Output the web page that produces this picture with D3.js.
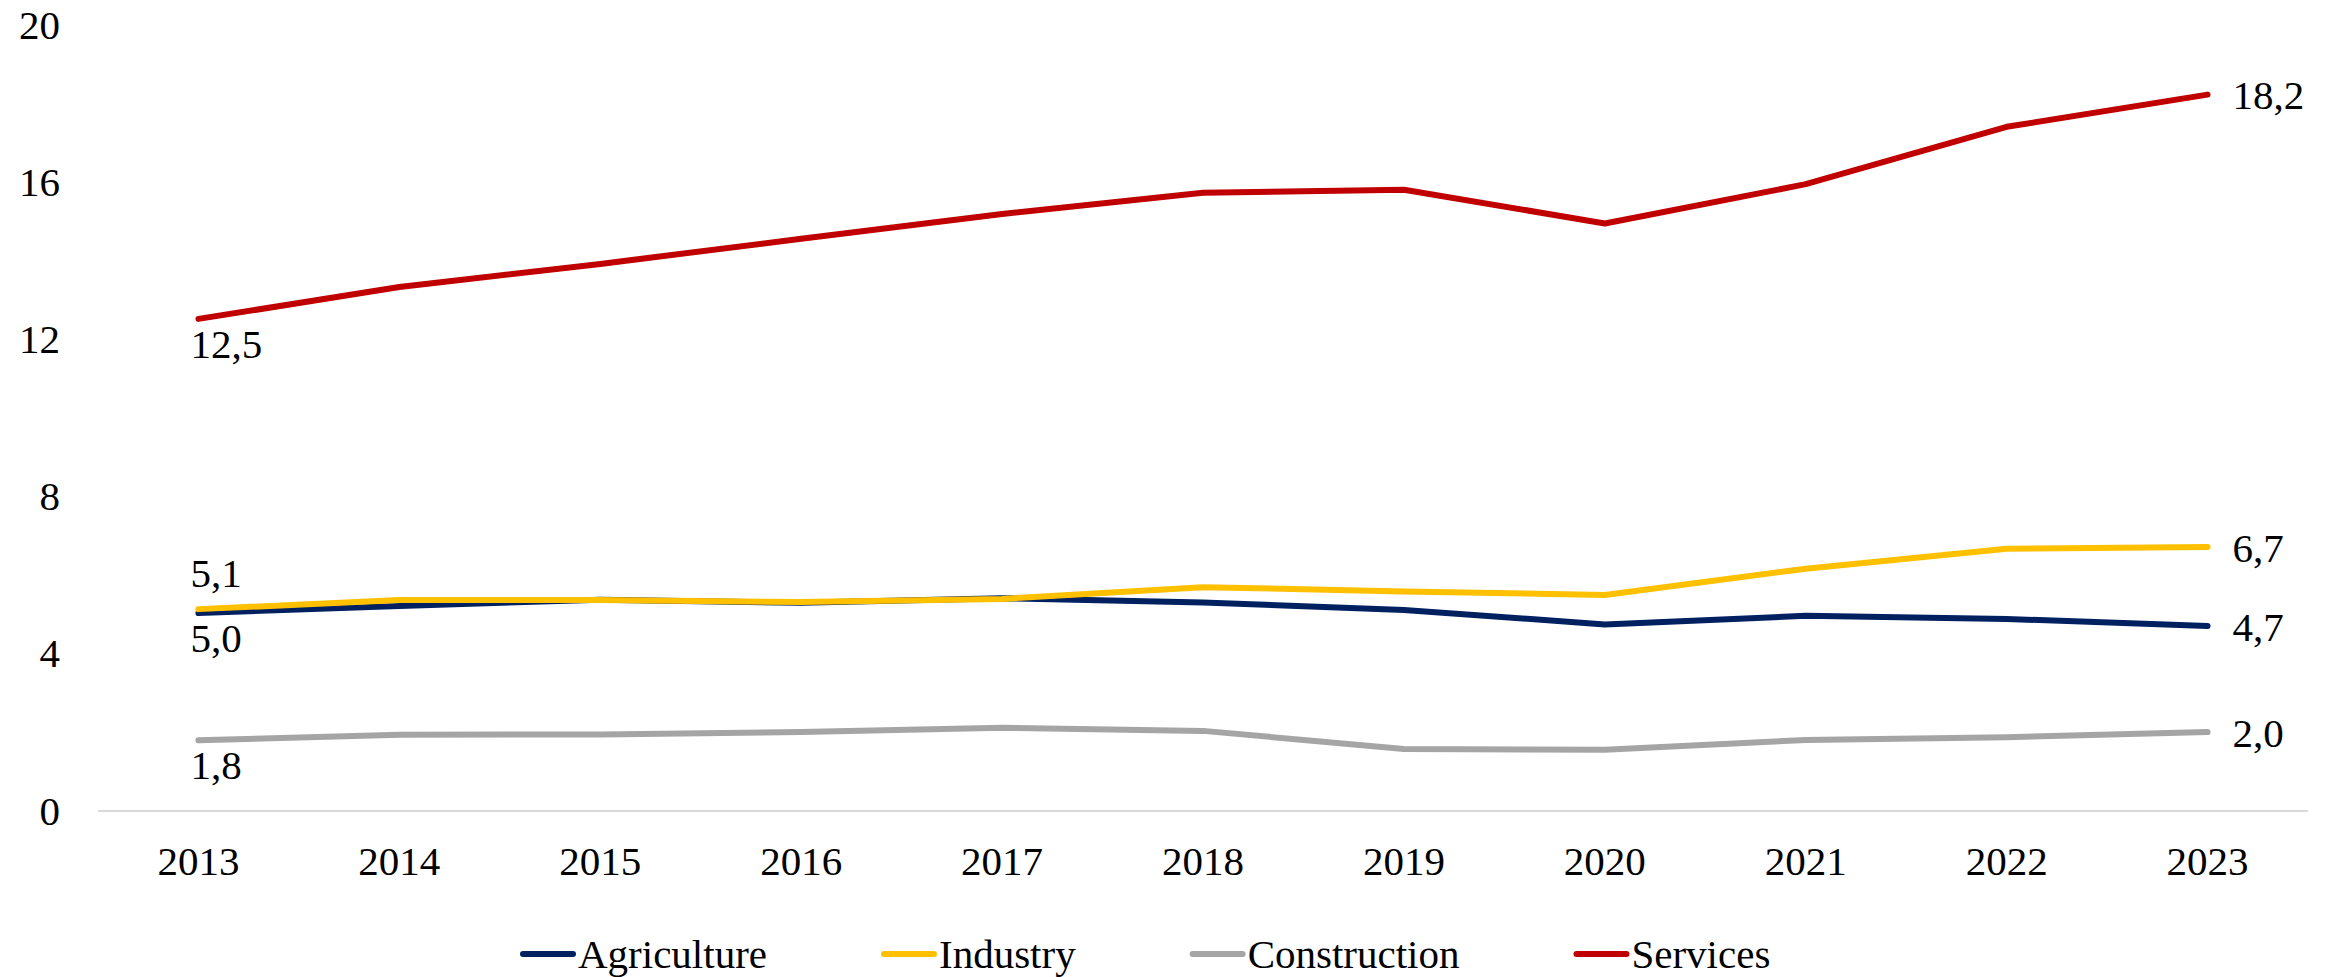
<!DOCTYPE html>
<html lang="en">
	<head>
		<meta charset="utf-8">
		<title>Employment by sector</title>
		<style>
			html, body {
				margin: 0;
				background: #fff;
			}
			svg {
				display: block;
				font-family: 'Liberation Serif', 'DejaVu Serif', serif;
			}
		</style>
	</head>
	<body>
		<script src="https://cdn.jsdelivr.net/npm/d3@7/dist/d3.min.js"></script>
		<script>
		const years = ['2013', '2014', '2015', '2016', '2017', '2018', '2019', '2020', '2021', '2022', '2023']
		const agriculture = [5.04, 5.22, 5.38, 5.30, 5.42, 5.31, 5.12, 4.75, 4.97, 4.89, 4.71]
		const industry = [5.14, 5.37, 5.37, 5.32, 5.40, 5.70, 5.59, 5.50, 6.17, 6.68, 6.72]
		const construction = [1.80, 1.94, 1.95, 2.01, 2.12, 2.04, 1.58, 1.56, 1.81, 1.88, 2.01]
		const services = [12.53, 13.34, 13.93, 14.57, 15.20, 15.74, 15.82, 14.96, 15.96, 17.42, 18.24]
		const yTicks = [0, 4, 8, 12, 16, 20]

		const series = [
			{ name: 'Agriculture', values: agriculture, color: '#002060', first: 'below' },
			{ name: 'Industry', values: industry, color: '#FFC000', first: 'above' },
			{ name: 'Construction', values: construction, color: '#A5A5A5', first: 'below' },
			{ name: 'Services', values: services, color: '#C00000', first: 'below' }
		]

		const W = 2336
		const H = 977
		const fontSize = 41
		const fmt = v => d3.format('.1f')(v).replace('.', ',')

		const x = d3.scalePoint()
			.domain(years)
			.range([98, 2308])
			.padding(0.5)

		const y = d3.scaleLinear()
			.domain([0, 20])
			.range([811, 25.5])

		const svg = d3.select('body').append('svg')
			.attr('width', W)
			.attr('height', H)
			.attr('viewBox', [0, 0, W, H])
			.attr('font-size', fontSize)

		// y tick labels, no axis line
		svg.append('g').selectAll('text')
			.data(yTicks)
			.join('text')
			.attr('x', 60)
			.attr('y', d => y(d))
			.attr('dy', '0.33em')
			.attr('text-anchor', 'end')
			.text(d => d)

		// baseline
		svg.append('line')
			.attr('x1', 98)
			.attr('x2', 2308)
			.attr('y1', y(0))
			.attr('y2', y(0))
			.attr('stroke', '#d9d9d9')
			.attr('stroke-width', 2)

		// x labels
		svg.append('g').selectAll('text')
			.data(years)
			.join('text')
			.attr('x', d => x(d))
			.attr('y', 875)
			.attr('text-anchor', 'middle')
			.text(d => d)

		const line = d3.line()
			.x((d, i) => x(years[i]))
			.y(d => y(d))

		svg.append('g').selectAll('path')
			.data(series)
			.join('path')
			.attr('d', d => line(d.values))
			.attr('fill', 'none')
			.attr('stroke', d => d.color)
			.attr('stroke-width', 6)
			.attr('stroke-linecap', 'round')
			.attr('stroke-linejoin', 'round')

		// first value labels
		svg.append('g').selectAll('text')
			.data(series)
			.join('text')
			.attr('x', x(years[0]) - 8)
			.attr('y', d => d.first === 'above' ? y(d.values[0]) - 22 : y(d.values[0]) + 39)
			.text(d => fmt(d.values[0]))

		// last value labels
		const last = years.length - 1
		svg.append('g').selectAll('text')
			.data(series)
			.join('text')
			.attr('x', x(years[last]) + 25)
			.attr('y', d => y(d.values[last]))
			.attr('dy', '0.36em')
			.text(d => fmt(d.values[last]))

		// legend
		const legend = svg.append('g')
		let lx = 520
		series.forEach(s => {
			legend.append('line')
				.attr('x1', lx + 3)
				.attr('x2', lx + 53)
				.attr('y1', 954)
				.attr('y2', 954)
				.attr('stroke', s.color)
				.attr('stroke-width', 6)
				.attr('stroke-linecap', 'round')
			const t = legend.append('text')
				.attr('x', lx + 58)
				.attr('y', 968)
				.text(s.name)
			lx += 58 + t.node().getComputedTextLength() + 114
		})
		</script>
	</body>
</html>
